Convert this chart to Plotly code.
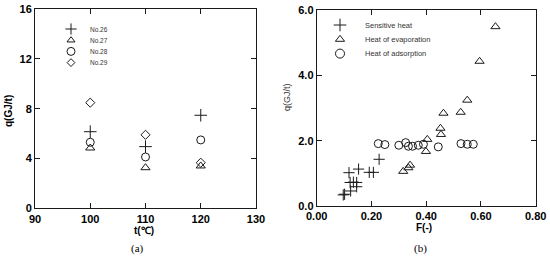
import plotly.graph_objects as go

# ---------------- data: panel (a) ----------------
temps = [100, 110, 120]
no26 = [6.15, 4.95, 7.47]
no27 = [4.84, 3.26, 3.40]
no28 = [5.30, 4.12, 5.49]
no29 = [8.48, 5.90, 3.66]
a_names = ["No.26", "No.27", "No.28", "No.29"]

# ---------------- data: panel (b) ----------------
sens_F = [0.097, 0.102, 0.124, 0.118, 0.122, 0.134, 0.146, 0.146, 0.153, 0.192, 0.207, 0.228]
sens_q = [0.34, 0.36, 0.46, 1.02, 0.72, 0.73, 0.72, 0.59, 1.13, 1.03, 1.03, 1.43]
evap_F = [0.316, 0.335, 0.341, 0.399, 0.404, 0.454, 0.452, 0.463, 0.526, 0.550, 0.595, 0.653]
evap_q = [1.06, 1.17, 1.25, 1.67, 2.04, 2.19, 2.38, 2.84, 2.87, 3.24, 4.43, 5.49]
ads_F = [0.225, 0.249, 0.300, 0.325, 0.335, 0.350, 0.371, 0.390, 0.444, 0.527, 0.550, 0.572]
ads_q = [1.91, 1.88, 1.86, 1.94, 1.83, 1.83, 1.86, 1.89, 1.81, 1.91, 1.89, 1.89]
b_names = ["Sensitive heat", "Heat of evaporation", "Heat of adsorption"]

a_ticks_x = [90, 100, 110, 120, 130]
a_ticks_y = [0, 4, 8, 12, 16]

# ---------------- styling ----------------
W, H = 550, 256
INK = "#1a1a1a"
SANS = "Liberation Sans, Arial, sans-serif"
SERIF = "Liberation Serif, Times New Roman, serif"

sym_a = ["cross-thin-open", "triangle-up-open", "circle-open", "diamond-open"]
size_a = [9, 8, 8, 7]
sym_b = ["cross-thin-open", "triangle-up-open", "circle-open"]
size_b = [8, 8, 8]

def mk(sym, size):
    return dict(symbol=sym, size=size, color=INK, line=dict(width=1, color=INK))

fig = go.Figure()

a_series = [no26, no27, no28, no29]
for name, ys, s, sz in zip(a_names, a_series, sym_a, size_a):
    fig.add_trace(go.Scatter(x=temps, y=ys, mode="markers", name=name,
                             marker=mk(s, sz), xaxis="x", yaxis="y", showlegend=False))

b_series = [(sens_F, sens_q), (evap_F, evap_q), (ads_F, ads_q)]
for name, (xs, ys), s, sz in zip(b_names, b_series, sym_b, size_b):
    fig.add_trace(go.Scatter(x=xs, y=ys, mode="markers", name=name,
                             marker=mk(s, sz), xaxis="x2", yaxis="y2", showlegend=False))

# ---- hand-built legends on a pixel-coordinate overlay axis ----
def legend(names, syms, sizes, x_mark, x_text, y0, dy, fsize, color):
    ys = [y0 + i * dy for i in range(len(names))]
    for n, s, sz, y in zip(names, syms, sizes, ys):
        fig.add_trace(go.Scatter(x=[x_mark], y=[y], mode="markers", marker=mk(s, sz),
                                 xaxis="x3", yaxis="y3", showlegend=False, hoverinfo="skip"))
        fig.add_annotation(x=x_text, y=y, xref="x3", yref="y3", text=n, showarrow=False,
                           xanchor="left", yanchor="middle",
                           font=dict(family=SANS, size=fsize, color=color))

legend(a_names, sym_a, [8, 7, 8, 6], 71, 88, 29, 11.2, 6.5, "#333")
legend(b_names, sym_b, [9, 8, 9], 340, 363, 25, 14.3, 7.5, "#333")

def px_dom(a, b, total, flip=False):
    if flip:
        return [(total - b) / total, (total - a) / total]
    return [a / total, b / total]

axis_common = dict(showline=True, linecolor=INK, linewidth=1, mirror="ticks",
                   ticks="inside", ticklen=5, tickwidth=1, tickcolor=INK,
                   showgrid=False, zeroline=False, automargin=False,
                   tickfont=dict(family=SANS, size=11, color="#000", weight="bold"))

fig.update_layout(
    width=W, height=H, margin=dict(l=0, r=0, t=0, b=0, autoexpand=False),
    paper_bgcolor="white", plot_bgcolor="rgba(0,0,0,0)",
    showlegend=False,
    xaxis=dict(domain=px_dom(35, 256, W), range=[90, 130], tickvals=a_ticks_x,
               anchor="y", **axis_common),
    yaxis=dict(domain=px_dom(9, 208.3, H, flip=True), range=[0, 16], tickvals=a_ticks_y,
               anchor="x", **axis_common),
    xaxis2=dict(domain=px_dom(316.7, 535.7, W), range=[0, 0.8], dtick=0.2, tick0=0,
                tickformat=".2f", anchor="y2", **axis_common),
    yaxis2=dict(domain=px_dom(10, 206, H, flip=True), range=[0, 6], dtick=2, tick0=0,
                tickformat=".1f", anchor="x2", **axis_common),
    xaxis3=dict(domain=[0, 1], range=[0, W], visible=False, anchor="y3", fixedrange=True,
                automargin=False),
    yaxis3=dict(domain=[0, 1], range=[H, 0], visible=False, anchor="x3", fixedrange=True,
                automargin=False),
)

def label(text, x, y, size, family=SANS, weight="bold", angle=0, color="#000"):
    fig.add_annotation(x=x / W, y=1 - y / H, xref="paper", yref="paper", text=text,
                       showarrow=False, textangle=angle, xanchor="center", yanchor="middle",
                       font=dict(family=family, size=size, color=color, weight=weight))

label("q(GJ/t)", 8, 111, 10, angle=-90)
label("t(℃)", 144, 230, 10)
label("(a)", 137, 248, 11, family=SERIF, weight="normal")
label("q(GJ/t)", 287, 97, 9, weight="normal", angle=-90, color="#333")
label("F(-)", 424, 227, 10)
label("(b)", 420, 248, 11, family=SERIF, weight="normal")

fig.write_html("out.html", config={"displayModeBar": False},
               post_script="document.body.style.margin='0';document.body.style.overflow='hidden';")
